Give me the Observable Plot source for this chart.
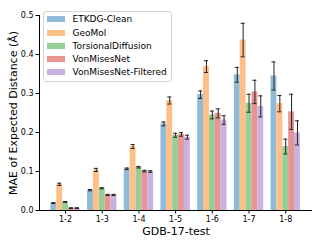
<!DOCTYPE html>
<html><head><meta charset="utf-8">
<script src="https://cdn.jsdelivr.net/npm/d3@7"></script>
<script src="https://cdn.jsdelivr.net/npm/@observablehq/plot@0.6"></script>
<style>
body{margin:0;background:#fff;font-family:"DejaVu Sans",sans-serif}
#wrap{position:relative;width:317px;height:242px}
#legend{position:absolute;left:43px;top:11px;width:129px;height:71px;box-sizing:border-box;border:1px solid #d4d4d4;border-radius:3px;background:rgba(255,255,255,0.8);font-size:9px;color:#000;font-family:"DejaVu Sans",sans-serif}
.row{position:absolute;left:3px;height:13px;display:flex;align-items:center;white-space:nowrap}
.sw{width:18px;height:6px;margin-right:7.5px}
</style></head>
<body><div id="wrap"><div id="legend"></div></div>
<script>
const categories = ["1-2","1-3","1-4","1-5","1-6","1-7","1-8"];
const methods = ["ETKDG-Clean","GeoMol","TorsionalDiffusion","VonMisesNet","VonMisesNet-Filtered"];
const colors = ["#8fbbd9","#ffbf86","#95cf95","#ea9393","#c9b3de"];

const etkdg      = [0.019, 0.052, 0.107, 0.222, 0.297, 0.348, 0.345];
const etkdgErr   = [0.001, 0.0015, 0.002, 0.005, 0.0095, 0.019, 0.036];
const geomol     = [0.067, 0.104, 0.164, 0.282, 0.369, 0.437, 0.274];
const geomolErr  = [0.003, 0.004, 0.005, 0.009, 0.015, 0.043, 0.021];
const torsional  = [0.022, 0.057, 0.111, 0.193, 0.245, 0.275, 0.164];
const torsionalErr = [0.001, 0.0015, 0.002, 0.005, 0.010, 0.023, 0.019];
const vmn        = [0.006, 0.040, 0.101, 0.195, 0.249, 0.304, 0.253];
const vmnErr     = [0.001, 0.0015, 0.002, 0.0045, 0.0115, 0.030, 0.045];
const vmnf       = [0.006, 0.040, 0.100, 0.188, 0.232, 0.267, 0.199];
const vmnfErr    = [0.001, 0.0015, 0.002, 0.005, 0.011, 0.027, 0.031];

const yTicks = [0, 0.1, 0.2, 0.3, 0.4, 0.5];

const series = [[etkdg, etkdgErr],[geomol, geomolErr],[torsional, torsionalErr],[vmn, vmnErr],[vmnf, vmnfErr]];
const rows = [];
series.forEach(([vals, errs], j) => vals.forEach((v, i) => rows.push({i, j, v, e: errs[i]})));

const barW = 0.16;
const xc = d => d.i + (d.j - 2) * barW;
const xDomain = [-0.71, 6.73];

const chart = Plot.plot({
  width: 317, height: 242,
  marginLeft: 39, marginRight: 5, marginTop: 15, marginBottom: 32,
  style: {fontFamily: "DejaVu Sans", fontSize: "8px", color: "#000", background: "transparent"},
  x: {domain: xDomain},
  y: {domain: [0, 0.5]},
  marks: [
    Plot.rect(rows, {x1: d => xc(d) - barW/2, x2: d => xc(d) + barW/2, y1: 0, y2: "v", fill: d => colors[d.j]}),
    Plot.ruleX(rows, {x: xc, y1: d => d.v - d.e, y2: d => d.v + d.e, stroke: "#222", strokeWidth: 1}),
    Plot.ruleY(rows, {y: d => d.v - d.e, x1: d => xc(d) - 0.055, x2: d => xc(d) + 0.055, stroke: "#222", strokeWidth: 1}),
    Plot.ruleY(rows, {y: d => d.v + d.e, x1: d => xc(d) - 0.055, x2: d => xc(d) + 0.055, stroke: "#222", strokeWidth: 1}),
    Plot.ruleY([0], {stroke: "#000", strokeWidth: 1}),
    Plot.ruleX([xDomain[0]], {stroke: "#000", strokeWidth: 1}),
    Plot.axisX({ticks: d3.range(categories.length), tickFormat: i => categories[i], tickSize: 3.5, tickPadding: 2.5, label: null}),
    Plot.axisY({ticks: yTicks, tickFormat: d3.format(".1f"), tickSize: 3.5, tickPadding: 2.5, label: null}),
    Plot.text(["GDB-17-test"], {frameAnchor: "bottom", dy: 21, fontSize: 11, lineAnchor: "middle"}),
    Plot.text(["MAE of Expected Distance (Å)"], {frameAnchor: "left", dx: -26, rotate: -90, fontSize: 11, textAnchor: "middle", lineAnchor: "middle"})
  ]
});
const wrap = document.getElementById("wrap");
wrap.insertBefore(chart, wrap.firstChild);

const legend = document.getElementById("legend");
const rowCenters = [8.3, 21.7, 34.8, 48, 61.3];
methods.forEach((m, k) => {
  const r = document.createElement("div");
  r.className = "row";
  r.style.top = (rowCenters[k] - 6.5 - 1) + "px";
  const sw = document.createElement("span");
  sw.className = "sw";
  sw.style.background = colors[k];
  const t = document.createElement("span");
  t.textContent = m;
  r.appendChild(sw); r.appendChild(t);
  legend.appendChild(r);
});
</script>
</body></html>
